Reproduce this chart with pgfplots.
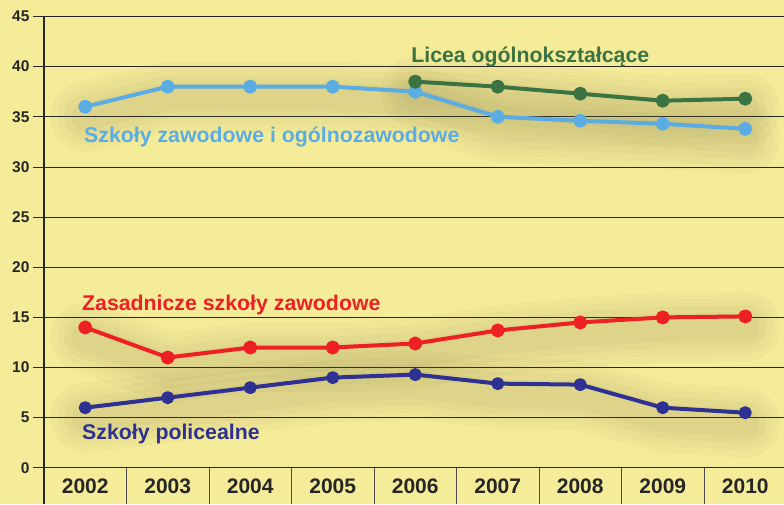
\documentclass[border=0pt]{standalone}
\usepackage{pgfplots}
\usepackage{pgfplotstable}
\pgfplotsset{compat=1.18}
\usepackage{fontspec}
\setmainfont{Liberation Sans}
\definecolor{bg}{RGB}{245,236,153}
\definecolor{cgreen}{RGB}{60,115,66}
\definecolor{cblue}{RGB}{91,172,226}
\definecolor{cred}{RGB}{237,32,36}
\definecolor{cnavy}{RGB}{46,49,146}
\definecolor{shad}{RGB}{110,100,60}
\pgfplotstableread{
x y
0 36.0
1 38.0
2 38.0
3 38.0
4 37.5
5 35.0
6 34.6
7 34.3
8 33.8
}\blue
\pgfplotstableread{
x y
4 38.5
5 38.0
6 37.3
7 36.6
8 36.8
}\green
\pgfplotstableread{
x y
0 14.0
1 11.0
2 12.0
3 12.0
4 12.4
5 13.7
6 14.5
7 15.0
8 15.1
}\red
\pgfplotstableread{
x y
0 6.0
1 7.0
2 8.0
3 9.0
4 9.3
5 8.4
6 8.3
7 6.0
8 5.5
}\navy
\tikzset{
  sh/.style={shad, line cap=round, line join=round, yshift=-10pt},
}
\newcommand{\shadowof}[1]{%
  \addplot[forget plot, no markers, sh, line width=70pt, opacity=0.04] table {#1};
  \addplot[forget plot, no markers, sh, line width=56pt, opacity=0.045] table {#1};
  \addplot[forget plot, no markers, sh, line width=42pt, opacity=0.045] table {#1};
  \addplot[forget plot, no markers, sh, line width=28pt, opacity=0.045] table {#1};
}
\begin{document}
\begin{tikzpicture}
\path[use as bounding box, fill=bg] (0,0) rectangle (784pt,504pt);
\begin{axis}[
  at={(44pt,0pt)}, anchor=south west,
  width=742.5pt, height=504pt, scale only axis,
  xmin=-0.5, xmax=8.5, ymin=-3.6, ymax=46.64,
  axis line style={draw=none}, clip=false,
  ytick={0,5,...,45}, ymajorgrids,
  grid style={black!85, line width=0.8pt},
  ytick pos=left, ytick align=outside, major tick length=11pt,
  ytick style={black!85, line width=0.8pt},
  yticklabel style={font=\bfseries\fontsize{15.5}{18}\selectfont, text=black!85},
  xtick={0,...,8}, xticklabels={2002,2003,2004,2005,2006,2007,2008,2009,2010},
  xtick style={draw=none},
  xticklabel style={anchor=center, yshift=18pt, font=\bfseries\fontsize{21}{24}\selectfont, text=black!85},
  /pgf/number format/assume math mode=true,
]
\shadowof{\blue}
\shadowof{\green}
\shadowof{\red}
\shadowof{\navy}
\draw[black!85, line width=1.2pt] (axis cs:-0.5,45) -- (axis cs:-0.5,-3.6);
\pgfplotsinvokeforeach{0.5,1.5,...,7.5}{
  \draw[black!70, line width=0.8pt] (axis cs:#1,0) -- (axis cs:#1,-3.6);
}
\addplot[cblue, line width=4pt, line join=round, mark=*, mark size=5pt] table {\blue};
\addplot[cgreen, line width=4pt, line join=round, mark=*, mark size=5pt] table {\green};
\addplot[cred, line width=4pt, line join=round, mark=*, mark size=5pt] table {\red};
\addplot[cnavy, line width=4pt, line join=round, mark=*, mark size=4.5pt] table {\navy};
\node[anchor=west, text=cgreen, font=\bfseries\fontsize{21.3}{24}\selectfont, inner sep=0pt] at (axis cs:3.95,41.0) {Licea ogólnokształcące};
\node[anchor=west, text=cblue, font=\bfseries\fontsize{21.3}{24}\selectfont, inner sep=0pt] at (axis cs:-0.015,33.0) {Szkoły zawodowe i ogólnozawodowe};
\node[anchor=west, text=cred, font=\bfseries\fontsize{21.3}{24}\selectfont, inner sep=0pt] at (axis cs:-0.04,16.2) {Zasadnicze szkoły zawodowe};
\node[anchor=west, text=cnavy, font=\bfseries\fontsize{21.3}{24}\selectfont, inner sep=0pt] at (axis cs:-0.04,3.4) {Szkoły policealne};
\end{axis}
\end{tikzpicture}
\end{document}
